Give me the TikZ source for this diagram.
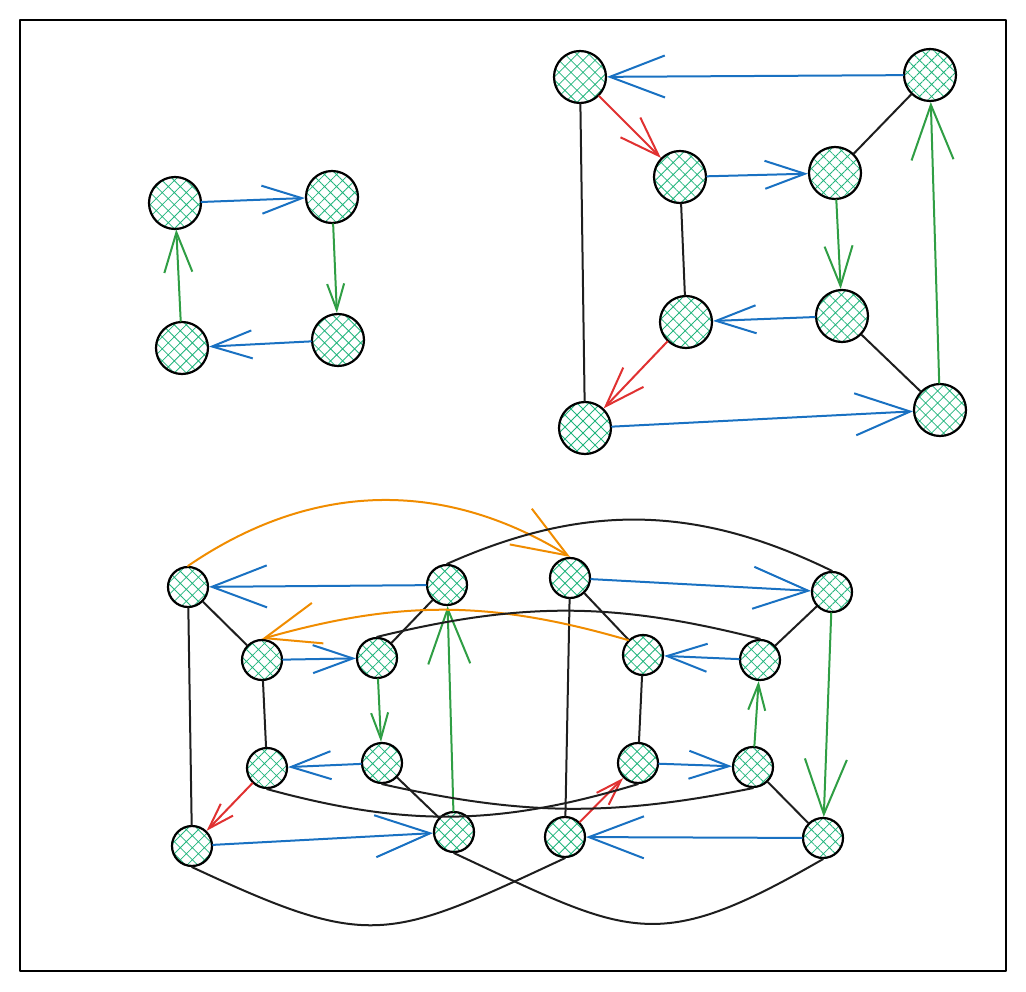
\documentclass[tikz,border=0pt]{standalone}
\usepackage{tikz}
\usetikzlibrary{arrows.meta, patterns.meta}
\definecolor{hatch}{RGB}{32,180,124}
\definecolor{ink}{RGB}{30,30,30}
\definecolor{eblue}{RGB}{25,113,194}
\definecolor{egreen}{RGB}{47,158,68}
\definecolor{ered}{RGB}{224,49,49}
\definecolor{eorange}{RGB}{240,140,0}
\tikzset{
  vtx/.style={circle, draw=black, line width=2.2pt, inner sep=0pt, minimum size=52pt,
    pattern={Hatch[angle=45, distance=8.5pt, line width=0.8pt]}, pattern color=hatch},
  vsm/.style={vtx, minimum size=40pt},
  link/.style={draw=ink, line width=2pt},
  arc/.style={line width=2pt},
  tipL/.style={-{Straight Barb[length=55pt, width=42pt]}},
  tipM/.style={-{Straight Barb[length=40pt, width=28pt]}},
  tipS/.style={-{Straight Barb[length=26pt, width=17pt]}},
}

\begin{document}
\begin{tikzpicture}[x=1pt, y=-1pt, line cap=round, line join=round]
\useasboundingbox (0,0) rectangle (1026,992);
% Frame
\draw[line width=1.5pt] (20,20) rectangle (1006,971);
% ---- Square ----
\node[vtx] (s1) at (175,203) {};
\node[vtx] (s2) at (332,197) {};
\node[vtx] (s3) at (338,340) {};
\node[vtx] (s4) at (182,348) {};
\draw[arc, eblue, tipM] (s1) -- (s2);
\draw[arc, egreen, tipS] (s2) -- (s3);
\draw[arc, eblue, tipM] (s3) -- (s4);
\draw[arc, egreen, tipM] (s4) -- (s1);
% ---- Cube ----
\node[vtx] (c1) at (580,77) {};
\node[vtx] (c2) at (930,75) {};
\node[vtx] (c3) at (585,428) {};
\node[vtx] (c4) at (940,410) {};
\node[vtx] (c5) at (680,177) {};
\node[vtx] (c6) at (835,173) {};
\node[vtx] (c7) at (686,322) {};
\node[vtx] (c8) at (842,316) {};
% outer face
\draw[arc, eblue, tipL] (c2) -- (c1);
\draw[arc, eblue, tipL] (c3) -- (c4);
\draw[arc, egreen, tipL] (c4) -- (c2);
\draw[link] (c1) -- (c3);
% inner face
\draw[arc, eblue, tipM] (c5) -- (c6);
\draw[arc, egreen, tipM] (c6) -- (c8);
\draw[arc, eblue, tipM] (c8) -- (c7);
\draw[link] (c5) -- (c7);
% between faces
\draw[arc, ered, tipM] (c1) -- (c5);
\draw[arc, ered, tipM] (c7) -- (c3);
\draw[link] (c6) -- (c2);
\draw[link] (c8) -- (c4);
% ---- Hypercube: left cube ----
\node[vsm] (a1) at (188,587) {};
\node[vsm] (a2) at (447,585) {};
\node[vsm] (a3) at (192,846) {};
\node[vsm] (a4) at (454,832) {};
\node[vsm] (a5) at (262,660) {};
\node[vsm] (a6) at (377,658) {};
\node[vsm] (a7) at (267,768) {};
\node[vsm] (a8) at (382,763) {};
% ---- Hypercube: right cube ----
\node[vsm] (b1) at (570,578) {};
\node[vsm] (b2) at (832,592) {};
\node[vsm] (b3) at (565,837) {};
\node[vsm] (b4) at (823,838) {};
\node[vsm] (b5) at (643,655) {};
\node[vsm] (b6) at (760,660) {};
\node[vsm] (b7) at (638,763) {};
\node[vsm] (b8) at (753,767) {};
% left cube edges
\draw[arc, eblue, tipL] (a2) -- (a1);
\draw[arc, eblue, tipL] (a3) -- (a4);
\draw[arc, egreen, tipL] (a4) -- (a2);
\draw[arc, eblue, tipM] (a5) -- (a6);
\draw[arc, egreen, tipS] (a6) -- (a8);
\draw[arc, eblue, tipM] (a8) -- (a7);
\draw[arc, ered, tipS] (a7) -- (a3);
\draw[link] (a1) -- (a3);
\draw[link] (a1) -- (a5);
\draw[link] (a5) -- (a7);
\draw[link] (a6) -- (a2);
\draw[link] (a8) -- (a4);
% right cube edges
\draw[arc, eblue, tipL] (b1) -- (b2);
\draw[arc, eblue, tipL] (b4) -- (b3);
\draw[arc, egreen, tipL] (b2) -- (b4);
\draw[arc, eblue, tipM] (b6) -- (b5);
\draw[arc, egreen, tipS] (b8) -- (b6);
\draw[arc, eblue, tipM] (b7) -- (b8);
\draw[arc, ered, tipS] (b3) -- (b7);
\draw[link] (b1) -- (b3);
\draw[link] (b1) -- (b5);
\draw[link] (b5) -- (b7);
\draw[link] (b6) -- (b2);
\draw[link] (b8) -- (b4);
% links between the two cubes
\draw[arc, eorange, tipL] (a1.north) to[bend left=33] (b1.north);
\draw[arc, eorange, tipL] (b5.north west) to[bend right=16] (a5.north);
\draw[link] (a2.north) to[bend left=25] (b2.north);
\draw[link] (a6.north) to[bend left=14] (b6.north);
\draw[link] (a7.south) to[bend right=16] (b7.south);
\draw[link] (a8.south) to[bend right=12] (b8.south);
\draw[link] (a3.south) to[out=-25, in=-155, looseness=1.35] (b3.south);
\draw[link] (a4.south) to[out=-25, in=-150, looseness=1.35] (b4.south);
\end{tikzpicture}
\end{document}
